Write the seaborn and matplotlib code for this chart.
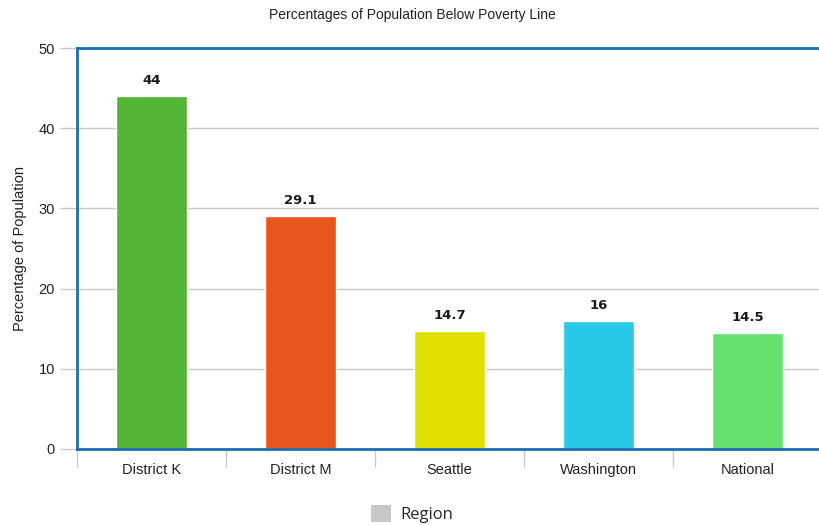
import matplotlib
matplotlib.use("Agg")
import matplotlib.pyplot as plt
from matplotlib.patches import Patch
from matplotlib.ticker import FixedLocator
import seaborn as sns
import pandas as pd

regions = ["District K", "District M", "Seattle", "Washington", "National"]
percentages = [44, 29.1, 14.7, 16, 14.5]
bar_colors = ["#53b436", "#e8561e", "#dfe000", "#27c9e6", "#66e06f"]
y_ticks = [0, 10, 20, 30, 40, 50]

df = pd.DataFrame({"Region": regions, "Percentage": percentages})

sns.set_theme(style="white")
plt.rcParams["font.family"] = ["Liberation Sans", "DejaVu Sans"]

fig = plt.figure(figsize=(8.19, 5.25), dpi=100)
ax = fig.add_axes([77 / 819, 76 / 525, 745 / 819, 401 / 525])

sns.barplot(data=df, x="Region", y="Percentage", hue="Region",
            palette=bar_colors, width=0.47, legend=False, ax=ax,
            saturation=1)

ax.set_ylim(0, 50)
ax.set_xlim(-0.5, len(regions) - 0.5)
ax.set_yticks(y_ticks)
ax.yaxis.grid(True, color="#c8c8c8", linewidth=1)
ax.set_axisbelow(True)

# value labels above bars
for i, v in enumerate(percentages):
    ax.text(i, v + 1.1, f"{v:g}", ha="center", va="bottom",
            fontsize=9.5, fontweight="bold", color="#1a1a1a",
            family="DejaVu Sans")

# frame
frame_color = "#1f6db3"
for side in ["left", "top", "bottom"]:
    ax.spines[side].set_visible(True)
    ax.spines[side].set_color(frame_color)
    ax.spines[side].set_linewidth(2)
ax.spines["right"].set_visible(False)

ax.tick_params(axis="y", length=12, color="#c8c8c8", width=1,
               labelsize=10.5, labelcolor="#222222", pad=4, left=True)
ax.tick_params(axis="x", which="major", length=0, labelsize=10.5,
               labelcolor="#222222", pad=10)
ax.xaxis.set_minor_locator(FixedLocator([i - 0.5 for i in range(len(regions) + 1)]))
ax.tick_params(axis="x", which="minor", length=13, color="#c8c8c8",
               width=1, bottom=True)

ax.set_xlabel("")
ax.set_ylabel("Percentage of Population", fontsize=10.5, color="#222222",
              labelpad=8)

fig.suptitle("Percentages of Population Below Poverty Line", x=412 / 819,
             y=1 - 15 / 525, va="center", fontsize=10, color="#222222")

fig.legend(handles=[Patch(facecolor="#c8c8c8", edgecolor="none", label="Region")],
           loc="center", bbox_to_anchor=(412 / 819, 1 - 514 / 525),
           frameon=False, handlelength=1.2, handleheight=1.2,
           handletextpad=0.6, prop={"family": "Open Sans", "size": 12})

fig.savefig("out.png", dpi=100)
